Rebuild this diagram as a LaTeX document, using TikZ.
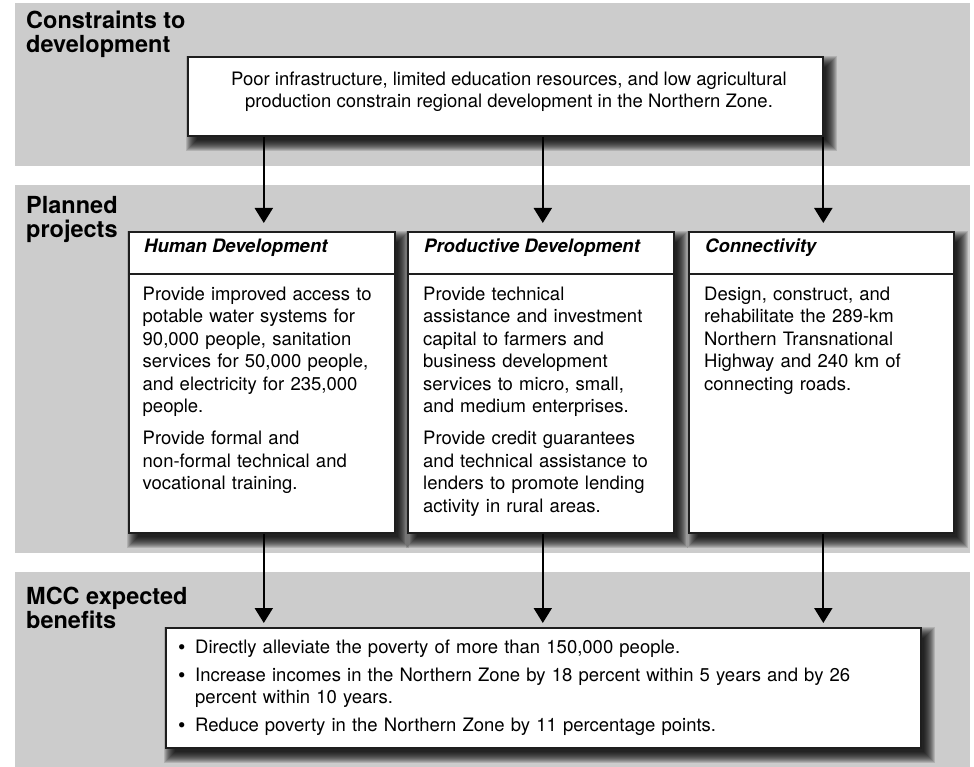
\documentclass[tikz,border=0pt]{standalone}
\usepackage{fontspec}
\setmainfont{TeX Gyre Heros}
\usetikzlibrary{arrows.meta,calc}

\definecolor{bandgray}{HTML}{CCCCCC}
\definecolor{edgegray}{HTML}{1E1E1E}

\pgfdeclarelayer{bands}
\pgfdeclarelayer{shade}
\pgfsetlayers{bands,shade,main}

% type sizes
\newcommand\bodysize{\fontsize{18.5pt}{22.5pt}\selectfont}
\newcommand\labelsize{\fontsize{23.5pt}{24pt}\selectfont\bfseries}
% fixed first-line height, so a node's top edge sits a known distance above its first baseline
\newcommand\lead{\rule{0pt}{20pt}}
% one bulleted benefit with a hanging indent
\newcommand\benefit[1]{\hangindent=17pt\hangafter=1\noindent\makebox[17pt][l]{\raisebox{-0.8pt}{\fontsize{21pt}{0pt}\selectfont\textbullet}}#1\par}
% soft drop shadow under a panel: stacked translucent rectangles, growing outwards
\newcommand\dropshade[1]{%
  \foreach \k in {0,...,11}{%
    \fill[black, fill opacity=0.13]
      ([xshift=6pt-(\k-4)*1pt, yshift=-7pt+(\k-4)*1pt]#1.north west) rectangle
      ([xshift=6pt+(\k-4)*1pt, yshift=-7pt-(\k-4)*1pt]#1.south east);
  }}

\begin{document}
\begin{tikzpicture}[x=1pt,y=-1pt,
  band/.style={fill=bandgray, draw=none},
  panel/.style={draw=edgegray, line width=1.6pt, fill=white, inner sep=0pt, anchor=north west},
  divider/.style={draw=edgegray, line width=1.6pt},
  seclabel/.style={font=\labelsize, align=left, inner sep=0pt, anchor=north west},
  coltitle/.style={font=\bodysize\bfseries\itshape, inner sep=0pt, anchor=base west},
  coltext/.style={font=\bodysize, text width=240pt, align=left, inner sep=0pt, anchor=north west},
  flow/.style={line width=2pt, -{Triangle[width=18pt,length=15pt]}},
]
\useasboundingbox (0,0) rectangle (974,767);

% background bands
\begin{pgfonlayer}{bands}
\fill[band] (15,3) rectangle (970,166);
\fill[band] (15,185) rectangle (970,553);
\fill[band] (15,572) rectangle (970,767);
\end{pgfonlayer}

% band labels
\node[seclabel] (lblconstr) at (26,8) {\lead Constraints to\\development};
\node[seclabel] (lblplan) at (26,193) {\lead Planned\\projects};
\node[seclabel] (lblmcc) at (26,584) {\lead MCC expected\\benefits};

% constraint box
\node[panel, minimum width=635pt, minimum height=79pt] (constr) at (187,56) {};
\node[font=\bodysize, align=center, inner sep=0pt, anchor=north] (constrtext) at (509,65)
  {\lead Poor infrastructure, limited education resources, and low agricultural\\
   production constrain regional development in the Northern Zone.};

% project columns
\node[panel, minimum width=266pt, minimum height=301pt] (hd) at (128,231) {};
\node[panel, minimum width=266pt, minimum height=301pt] (pd) at (407,231) {};
\node[panel, minimum width=265pt, minimum height=301pt] (cn) at (688,231) {};

\foreach \c in {hd,pd,cn}
  \draw[divider] ([yshift=-43pt]\c.north west) -- ([yshift=-43pt]\c.north east);

\node[coltitle] (hdtitle) at (144,253) {Human Development};
\node[coltitle] (pdtitle) at (424,253) {Productive Development};
\node[coltitle] (cntitle) at (705,253) {Connectivity};

\node[coltext] (hdtext) at (142.5,280) {\lead Provide improved access to\\
  potable water systems for\\
  90,000 people, sanitation\\
  services for 50,000 people,\\
  and electricity for 235,000\\
  people.\par\vspace{9.5pt}
  Provide formal and\\
  non-formal technical and\\
  vocational training.};

\node[coltext] (pdtext) at (423,280) {\lead Provide technical\\
  assistance and investment\\
  capital to farmers and\\
  business development\\
  services to micro, small,\\
  and medium enterprises.\par\vspace{9.5pt}
  Provide credit guarantees\\
  and technical assistance to\\
  lenders to promote lending\\
  activity in rural areas.};

\node[coltext] (cntext) at (704,280) {\lead Design, construct, and\\
  rehabilitate the 289-km\\
  Northern Transnational\\
  Highway and 240 km of\\
  connecting roads.};

% benefits box
\node[panel, minimum width=755pt, minimum height=120pt] (ben) at (165,627) {};
\node[font=\fontsize{18.5pt}{21.5pt}\selectfont, text width=720pt, inner sep=0pt, anchor=north west] (bentext) at (178,633)
  {\lead\benefit{Directly alleviate the poverty of more than 150,000 people.}\vspace{7pt}
   \benefit{Increase incomes in the Northern Zone by 18 percent within 5 years and by 26\newline
            percent within 10 years.}\vspace{7pt}
   \benefit{Reduce poverty in the Northern Zone by 11 percentage points.}};

% shadows behind the panels
\begin{pgfonlayer}{shade}
\foreach \p in {constr,hd,pd,cn,ben} {\dropshade{\p}}
\end{pgfonlayer}

% connectors
\foreach \c in {hd,pd,cn}{
  \draw[flow, shorten >=8pt] ([xshift=2pt]constr.south -| \c.north) -- ([xshift=2pt]\c.north);
  \draw[flow, shorten >=4pt] ([xshift=2pt]\c.south) -- ([xshift=2pt]\c.south |- ben.north);
}
\end{tikzpicture}
\end{document}
